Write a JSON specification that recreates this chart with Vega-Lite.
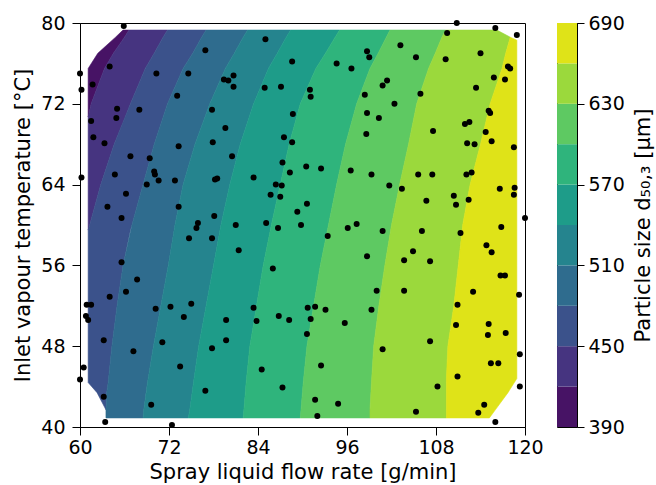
{
  "$schema": "https://vega.github.io/schema/vega-lite/v6.json",
  "padding": {"left": 12, "top": 13, "right": 5, "bottom": 5},
  "background": "white",
  "bounds": "flush",
  "config": {
    "font": "DejaVu Sans",
    "view": {"stroke": "black", "strokeWidth": 1},
    "axis": {"labelFont": "DejaVu Sans", "labelFontSize": 19, "labelColor": "#000", "labelFlush": false, "titleFont": "DejaVu Sans", "titleFontSize": 21, "titleFontWeight": "normal", "titleColor": "#000", "domainColor": "#000", "tickColor": "#000", "tickSize": 8, "grid": false, "labelPadding": 7}
  },
  "datasets": {
    "bands": [
      {"band":"b1","y":79.3,"x":65.8,"x2":66.6},{"band":"b1","y":78.6,"x":64.8,"x2":66.0},{"band":"b1","y":77,"x":62.4,"x2":64.5},{"band":"b1","y":75.5,"x":61.1,"x2":63.3},{"band":"b1","y":72,"x":61.1,"x2":61.5},{"band":"b1","y":70.7,"x":61.1,"x2":61.1},
      {"band":"b2","y":79.3,"x":66.6,"x2":71.8},{"band":"b2","y":78.6,"x":66.0,"x2":71.2},{"band":"b2","y":77,"x":64.5,"x2":70.0},{"band":"b2","y":75.5,"x":63.3,"x2":68.8},{"band":"b2","y":72,"x":61.5,"x2":66.8},{"band":"b2","y":70.7,"x":61.1,"x2":66.1},{"band":"b2","y":68,"x":61.1,"x2":64.6},{"band":"b2","y":64,"x":61.1,"x2":62.8},{"band":"b2","y":60,"x":61.1,"x2":61.3},{"band":"b2","y":59.5,"x":61.1,"x2":61.1},
      {"band":"b3","y":79.3,"x":71.8,"x2":77.0},{"band":"b3","y":78.6,"x":71.2,"x2":76.4},{"band":"b3","y":77,"x":70.0,"x2":75.2},{"band":"b3","y":75.5,"x":68.8,"x2":73.9},{"band":"b3","y":72,"x":66.8,"x2":71.8},{"band":"b3","y":68,"x":64.6,"x2":70.0},{"band":"b3","y":64,"x":62.8,"x2":68.5},{"band":"b3","y":60,"x":61.3,"x2":67.0},{"band":"b3","y":59.5,"x":61.1,"x2":66.8},{"band":"b3","y":56,"x":61.1,"x2":65.8},{"band":"b3","y":52,"x":61.1,"x2":65.0},{"band":"b3","y":48,"x":61.1,"x2":64.3},{"band":"b3","y":44.4,"x":61.1,"x2":63.8},{"band":"b3","y":43.4,"x":62.3,"x2":63.6},{"band":"b3","y":41.7,"x":63.5,"x2":63.5},
      {"band":"b4","y":79.3,"x":77.0,"x2":82.6},{"band":"b4","y":78.6,"x":76.4,"x2":82.0},{"band":"b4","y":77,"x":75.2,"x2":80.8},{"band":"b4","y":75.5,"x":73.9,"x2":79.6},{"band":"b4","y":72,"x":71.8,"x2":77.5},{"band":"b4","y":68,"x":70.0,"x2":75.5},{"band":"b4","y":64,"x":68.5,"x2":73.9},{"band":"b4","y":60,"x":67.0,"x2":72.8},{"band":"b4","y":56,"x":65.8,"x2":71.9},{"band":"b4","y":52,"x":65.0,"x2":70.9},{"band":"b4","y":48,"x":64.3,"x2":69.9},{"band":"b4","y":44.4,"x":63.8,"x2":69.1},{"band":"b4","y":43.4,"x":63.6,"x2":68.9},{"band":"b4","y":41.7,"x":63.5,"x2":68.6},{"band":"b4","y":40.9,"x":63.5,"x2":68.5},
      {"band":"b5","y":79.3,"x":82.6,"x2":88.4},{"band":"b5","y":78.6,"x":82.0,"x2":87.8},{"band":"b5","y":77,"x":80.8,"x2":86.6},{"band":"b5","y":75.5,"x":79.6,"x2":85.4},{"band":"b5","y":72,"x":77.5,"x2":83.4},{"band":"b5","y":68,"x":75.5,"x2":81.6},{"band":"b5","y":64,"x":73.9,"x2":80.2},{"band":"b5","y":60,"x":72.8,"x2":79.0},{"band":"b5","y":56,"x":71.9,"x2":78.0},{"band":"b5","y":52,"x":70.9,"x2":77.0},{"band":"b5","y":48,"x":69.9,"x2":76.0},{"band":"b5","y":44.4,"x":69.1,"x2":75.3},{"band":"b5","y":41.7,"x":68.6,"x2":74.8},{"band":"b5","y":40.9,"x":68.5,"x2":74.6},
      {"band":"b6","y":79.3,"x":88.4,"x2":95.0},{"band":"b6","y":78.6,"x":87.8,"x2":94.4},{"band":"b6","y":77,"x":86.6,"x2":93.1},{"band":"b6","y":75.5,"x":85.4,"x2":91.8},{"band":"b6","y":72,"x":83.4,"x2":89.7},{"band":"b6","y":68,"x":81.6,"x2":88.2},{"band":"b6","y":64,"x":80.2,"x2":87.0},{"band":"b6","y":60,"x":79.0,"x2":85.8},{"band":"b6","y":56,"x":78.0,"x2":84.7},{"band":"b6","y":52,"x":77.0,"x2":83.8},{"band":"b6","y":48,"x":76.0,"x2":82.9},{"band":"b6","y":44.4,"x":75.3,"x2":82.4},{"band":"b6","y":41.7,"x":74.8,"x2":82.1},{"band":"b6","y":40.9,"x":74.6,"x2":82.0},
      {"band":"b7","y":79.3,"x":95.0,"x2":101.8},{"band":"b7","y":78.6,"x":94.4,"x2":101.3},{"band":"b7","y":77,"x":93.1,"x2":100.2},{"band":"b7","y":75.5,"x":91.8,"x2":99.1},{"band":"b7","y":72,"x":89.7,"x2":97.3},{"band":"b7","y":68,"x":88.2,"x2":95.8},{"band":"b7","y":64,"x":87.0,"x2":94.6},{"band":"b7","y":60,"x":85.8,"x2":93.5},{"band":"b7","y":56,"x":84.7,"x2":92.4},{"band":"b7","y":52,"x":83.8,"x2":91.5},{"band":"b7","y":48,"x":82.9,"x2":90.6},{"band":"b7","y":44.4,"x":82.4,"x2":90.1},{"band":"b7","y":41.7,"x":82.1,"x2":89.8},{"band":"b7","y":40.9,"x":82.0,"x2":89.7},
      {"band":"b8","y":79.3,"x":101.8,"x2":109.3},{"band":"b8","y":78.6,"x":101.3,"x2":108.8},{"band":"b8","y":77,"x":100.2,"x2":107.9},{"band":"b8","y":75.5,"x":99.1,"x2":107.0},{"band":"b8","y":72,"x":97.3,"x2":105.4},{"band":"b8","y":68,"x":95.8,"x2":104.3},{"band":"b8","y":64,"x":94.6,"x2":103.1},{"band":"b8","y":60,"x":93.5,"x2":102.0},{"band":"b8","y":56,"x":92.4,"x2":101.1},{"band":"b8","y":52,"x":91.5,"x2":100.3},{"band":"b8","y":48,"x":90.6,"x2":99.6},{"band":"b8","y":44.4,"x":90.1,"x2":99.3},{"band":"b8","y":41.7,"x":89.8,"x2":99.1},{"band":"b8","y":40.9,"x":89.7,"x2":99.1},
      {"band":"b9","y":79.3,"x":109.3,"x2":116.2},{"band":"b9","y":78.6,"x":108.8,"x2":118.0},{"band":"b9","y":77,"x":107.9,"x2":117.4},{"band":"b9","y":75.5,"x":107.0,"x2":116.9},{"band":"b9","y":72,"x":105.4,"x2":115.3},{"band":"b9","y":68,"x":104.3,"x2":114.0},{"band":"b9","y":64,"x":103.1,"x2":112.6},{"band":"b9","y":60,"x":102.0,"x2":111.6},{"band":"b9","y":56,"x":101.1,"x2":111.0},{"band":"b9","y":52,"x":100.3,"x2":110.4},{"band":"b9","y":48,"x":99.6,"x2":109.6},{"band":"b9","y":44.4,"x":99.3,"x2":109.4},{"band":"b9","y":41.7,"x":99.1,"x2":109.4},{"band":"b9","y":40.9,"x":99.1,"x2":109.4},
      {"band":"b10","y":78.6,"x":118.0,"x2":118.0},{"band":"b10","y":78.3,"x":117.9,"x2":118.9},{"band":"b10","y":77,"x":117.4,"x2":118.9},{"band":"b10","y":75.5,"x":116.9,"x2":118.9},{"band":"b10","y":72,"x":115.3,"x2":118.9},{"band":"b10","y":68,"x":114.0,"x2":118.9},{"band":"b10","y":64,"x":112.6,"x2":118.9},{"band":"b10","y":60,"x":111.6,"x2":118.9},{"band":"b10","y":56,"x":111.0,"x2":118.9},{"band":"b10","y":52,"x":110.4,"x2":118.9},{"band":"b10","y":48,"x":109.6,"x2":118.9},{"band":"b10","y":44.8,"x":109.4,"x2":118.9},{"band":"b10","y":43.4,"x":109.4,"x2":117.7},{"band":"b10","y":41.7,"x":109.4,"x2":116.0},{"band":"b10","y":40.9,"x":109.4,"x2":115.2}
    ],
    "points": [
      {"x":65.9,"y":79.7},{"x":64.0,"y":75.7},{"x":60.0,"y":75.0},{"x":61.7,"y":73.9},{"x":60.2,"y":73.4},{"x":70.3,"y":75.0},{"x":74.6,"y":75.0},{"x":76.9,"y":77.3},{"x":85.0,"y":78.4},{"x":88.6,"y":76.2},{"x":79.4,"y":74.4},{"x":80.0,"y":74.3},{"x":80.7,"y":74.8},{"x":80.7,"y":73.7},{"x":73.1,"y":72.8},{"x":84.9,"y":73.6},{"x":87.1,"y":73.7},{"x":91.0,"y":73.4},{"x":91.1,"y":72.7},{"x":65.0,"y":71.5},{"x":64.9,"y":70.6},{"x":68.0,"y":71.4},{"x":61.5,"y":70.3},{"x":77.8,"y":71.4},{"x":88.7,"y":71.0},{"x":61.8,"y":68.7},{"x":63.3,"y":68.1},{"x":79.6,"y":69.6},{"x":87.5,"y":68.7},{"x":88.6,"y":68.2},{"x":77.9,"y":68.2},{"x":73.3,"y":67.8},{"x":66.8,"y":66.8},{"x":69.4,"y":66.6},{"x":80.5,"y":66.8},{"x":87.3,"y":66.2},{"x":90.5,"y":65.8},{"x":92.5,"y":65.6},{"x":88.3,"y":65.2},{"x":60.2,"y":64.7},{"x":64.7,"y":65.0},{"x":70.0,"y":65.3},{"x":70.1,"y":65.0},{"x":70.6,"y":64.4},{"x":69.0,"y":64.0},{"x":72.8,"y":64.4},{"x":78.2,"y":64.5},{"x":78.5,"y":64.6},{"x":83.4,"y":64.7},{"x":86.4,"y":64.0},{"x":87.2,"y":63.9},{"x":66.2,"y":63.1},{"x":85.7,"y":63.0},{"x":87.0,"y":62.8},{"x":90.6,"y":62.1},{"x":89.3,"y":61.3},{"x":63.7,"y":61.8},{"x":73.3,"y":61.8},{"x":65.6,"y":60.7},{"x":78.1,"y":60.9},{"x":75.9,"y":60.2},{"x":75.7,"y":59.7},{"x":81.0,"y":60.0},{"x":85.1,"y":60.2},{"x":86.7,"y":59.7},{"x":89.8,"y":60.0},{"x":74.7,"y":58.7},{"x":77.8,"y":58.7},{"x":93.4,"y":58.9},
      {"x":110.8,"y":80.0},{"x":116.0,"y":79.5},{"x":118.9,"y":78.8},{"x":109.5,"y":79.0},{"x":103.2,"y":77.8},{"x":98.7,"y":77.2},{"x":99.0,"y":76.6},{"x":94.6,"y":76.0},{"x":96.6,"y":75.5},{"x":105.3,"y":76.6},{"x":109.3,"y":76.4},{"x":114.0,"y":77.0},{"x":117.7,"y":75.7},{"x":118.0,"y":75.5},{"x":115.8,"y":74.6},{"x":117.3,"y":74.4},{"x":113.4,"y":73.6},{"x":101.4,"y":74.3},{"x":100.8,"y":73.8},{"x":98.4,"y":72.9},{"x":105.9,"y":73.0},{"x":102.4,"y":72.0},{"x":98.7,"y":71.1},{"x":100.3,"y":70.6},{"x":115.1,"y":71.3},{"x":115.3,"y":71.1},{"x":98.6,"y":69.0},{"x":107.6,"y":69.3},{"x":111.9,"y":70.0},{"x":112.5,"y":70.2},{"x":112.2,"y":68.1},{"x":113.2,"y":68.0},{"x":114.7,"y":69.2},{"x":115.5,"y":68.3},{"x":118.5,"y":67.7},{"x":96.5,"y":65.4},{"x":99.3,"y":65.0},{"x":105.6,"y":65.0},{"x":107.5,"y":65.0},{"x":112.1,"y":65.0},{"x":112.8,"y":65.2},{"x":101.7,"y":63.9},{"x":103.4,"y":63.6},{"x":106.7,"y":62.4},{"x":110.4,"y":62.9},{"x":110.7,"y":62.0},{"x":112.4,"y":62.5},{"x":116.6,"y":63.6},{"x":118.6,"y":63.7},{"x":118.5,"y":63.0},{"x":120.0,"y":60.7},{"x":116.8,"y":59.8},{"x":96.1,"y":59.7},{"x":97.3,"y":60.1},{"x":100.8,"y":59.4},{"x":106.1,"y":59.4},{"x":111.3,"y":59.2},
      {"x":81.4,"y":57.5},{"x":65.6,"y":56.3},{"x":86.0,"y":55.7},{"x":67.7,"y":54.6},{"x":66.2,"y":53.4},{"x":64.0,"y":52.9},{"x":60.9,"y":52.1},{"x":61.5,"y":52.1},{"x":60.8,"y":51.0},{"x":61.1,"y":50.6},{"x":70.2,"y":51.7},{"x":72.2,"y":51.9},{"x":74.0,"y":50.9},{"x":75.0,"y":52.2},{"x":79.7,"y":50.6},{"x":83.4,"y":51.8},{"x":83.8,"y":50.5},{"x":86.8,"y":51.0},{"x":88.2,"y":50.6},{"x":90.7,"y":51.8},{"x":91.7,"y":51.9},{"x":91.1,"y":50.7},{"x":93.1,"y":51.6},{"x":63.2,"y":48.6},{"x":71.1,"y":48.4},{"x":67.2,"y":47.5},{"x":77.8,"y":47.8},{"x":79.7,"y":48.6},{"x":90.6,"y":49.2},{"x":60.5,"y":45.9},{"x":60.0,"y":44.7},{"x":73.5,"y":46.0},{"x":84.5,"y":45.7},{"x":92.5,"y":46.1},{"x":63.2,"y":43.0},{"x":76.9,"y":43.6},{"x":87.3,"y":43.9},{"x":69.6,"y":42.2},{"x":91.7,"y":42.7},{"x":92.0,"y":41.1},{"x":63.4,"y":40.5},{"x":72.4,"y":40.2},
      {"x":114.8,"y":58.0},{"x":115.5,"y":57.3},{"x":104.9,"y":57.4},{"x":103.7,"y":56.5},{"x":107.2,"y":56.4},{"x":98.7,"y":56.9},{"x":116.7,"y":55.0},{"x":117.3,"y":55.0},{"x":100.0,"y":53.5},{"x":103.7,"y":53.5},{"x":113.0,"y":53.4},{"x":119.2,"y":53.1},{"x":99.3,"y":51.6},{"x":110.9,"y":52.1},{"x":95.7,"y":50.3},{"x":110.7,"y":50.1},{"x":115.1,"y":50.2},{"x":115.0,"y":49.1},{"x":117.4,"y":49.3},{"x":107.2,"y":48.5},{"x":100.8,"y":47.7},{"x":119.3,"y":47.2},{"x":115.4,"y":46.3},{"x":116.4,"y":46.3},{"x":110.9,"y":45.0},{"x":108.2,"y":44.0},{"x":119.3,"y":44.0},{"x":94.8,"y":42.3},{"x":105.3,"y":41.5},{"x":114.5,"y":42.2},{"x":113.7,"y":41.4},{"x":116.0,"y":40.5}
    ],
    "cbar": [
      {"band":"b1","lo":390,"hi":420},{"band":"b2","lo":420,"hi":450},{"band":"b3","lo":450,"hi":480},{"band":"b4","lo":480,"hi":510},{"band":"b5","lo":510,"hi":540},{"band":"b6","lo":540,"hi":570},{"band":"b7","lo":570,"hi":600},{"band":"b8","lo":600,"hi":630},{"band":"b9","lo":630,"hi":660},{"band":"b10","lo":660,"hi":690}
    ]
  },
  "hconcat": [
    {
      "width": 445,
      "height": 404,
      "layer": [
        {
          "data": {"name": "bands"},
          "mark": {"type": "area", "orient": "horizontal", "strokeWidth": 0.6},
          "encoding": {
            "y": {"field": "y", "type": "quantitative", "scale": {"domain": [40, 80], "nice": false, "zero": false}, "axis": {"values": [40, 48, 56, 64, 72, 80], "title": "Inlet vapour temperature [°C]", "titlePadding": 7}},
            "x": {"field": "x", "type": "quantitative", "scale": {"domain": [60, 120], "nice": false, "zero": false}, "axis": {"values": [60, 72, 84, 96, 108, 120], "title": "Spray liquid flow rate [g/min]", "titlePadding": 4, "labelPadding": 3}},
            "x2": {"field": "x2"},
            "color": {"field": "band", "type": "nominal", "scale": {"domain": ["b1","b2","b3","b4","b5","b6","b7","b8","b9","b10"], "range": ["#471365","#463480","#3b528b","#2f6c8e","#25848e","#1e9c89","#2fb47c","#5ec962","#9bd93c","#dfe318"]}, "legend": null},
            "stroke": {"field": "band", "type": "nominal", "scale": {"domain": ["b1","b2","b3","b4","b5","b6","b7","b8","b9","b10"], "range": ["#471365","#463480","#3b528b","#2f6c8e","#25848e","#1e9c89","#2fb47c","#5ec962","#9bd93c","#dfe318"]}, "legend": null}
          }
        },
        {
          "data": {"name": "points"},
          "mark": {"type": "circle", "size": 36, "color": "black", "opacity": 1},
          "encoding": {
            "x": {"field": "x", "type": "quantitative"},
            "y": {"field": "y", "type": "quantitative"}
          }
        }
      ]
    },
    {
      "width": 20,
      "height": 404,
      "data": {"name": "cbar"},
      "mark": {"type": "rect"},
      "encoding": {
        "x": {"datum": 0, "type": "quantitative", "scale": {"domain": [0, 1]}, "axis": null},
        "x2": {"datum": 1},
        "y": {"field": "lo", "type": "quantitative", "scale": {"domain": [390, 690], "nice": false, "zero": false}, "axis": {"orient": "right", "values": [390, 450, 510, 570, 630, 690], "title": "Particle size d₅₀,₃ [μm]", "titleAngle": 270, "titleBaseline": "top", "titlePadding": 8, "tickSize": 7, "labelPadding": 4}},
        "y2": {"field": "hi"},
        "color": {"field": "band", "type": "nominal", "scale": {"domain": ["b1","b2","b3","b4","b5","b6","b7","b8","b9","b10"], "range": ["#471365","#463480","#3b528b","#2f6c8e","#25848e","#1e9c89","#2fb47c","#5ec962","#9bd93c","#dfe318"]}, "legend": null}
      }
    }
  ],
  "spacing": 32,
  "resolve": {"scale": {"color": "independent", "stroke": "independent"}}
}
